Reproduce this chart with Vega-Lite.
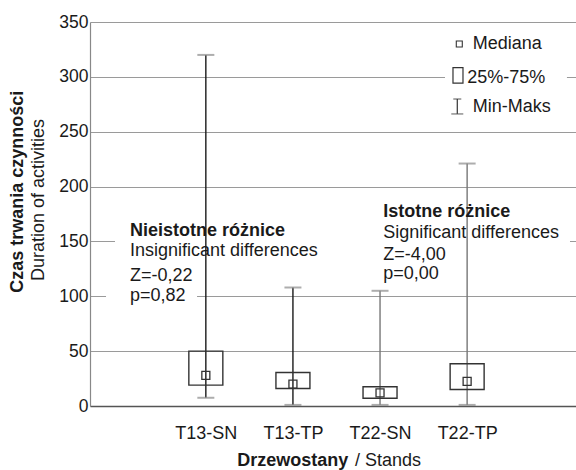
{
  "$schema": "https://vega.github.io/schema/vega-lite/v6.json",
  "width": 486,
  "height": 384,
  "autosize": {"type": "none"},
  "padding": {"left": 90, "top": 22, "right": 0, "bottom": 64},
  "background": "white",
  "config": {"view": {"stroke": null}, "font": "Liberation Sans"},
  "datasets": {
    "stands": [
      {"id": 1, "stand": "T13-SN", "grp": "T13", "min": 7.5, "q1": 19, "median": 28, "q3": 50, "max": 320},
      {"id": 2, "stand": "T13-TP", "grp": "T13", "min": 1, "q1": 16, "median": 20, "q3": 30.5, "max": 108},
      {"id": 3, "stand": "T22-SN", "grp": "T22", "min": 1, "q1": 7, "median": 12, "q3": 17.5, "max": 105},
      {"id": 4, "stand": "T22-TP", "grp": "T22", "min": 1, "q1": 15, "median": 22.5, "q3": 38.5, "max": 221}
    ],
    "masks": [
      {"x1": -0.043, "x2": 5.181, "y1": 140, "y2": 160},
      {"x1": -0.146, "x2": 0.899, "y1": 92, "y2": 108},
      {"x1": 3.746, "x2": 5.146, "y1": 260.7, "y2": 342.7}
    ],
    "boldText": [
      {"x": 0.129, "y": 155, "label": "Nieistotne różnice"},
      {"x": 3.037, "y": 172.5, "label": "Istotne różnice"}
    ],
    "plainText": [
      {"x": 0.129, "y": 136.7, "label": "Insignificant differences"},
      {"x": 0.129, "y": 113.9, "label": "Z=-0,22"},
      {"x": 0.129, "y": 95.7, "label": "p=0,82"},
      {"x": 3.037, "y": 152.9, "label": "Significant differences"},
      {"x": 3.037, "y": 133.1, "label": "Z=-4,00"},
      {"x": 3.037, "y": 115.5, "label": "p=0,00"},
      {"x": 4.064, "y": 325.1, "label": "Mediana"},
      {"x": 4.0, "y": 294.4, "label": "25%-75%"},
      {"x": 4.064, "y": 268.0, "label": "Min-Maks"},
      {"x": 2.713, "y": -55.1, "label": "/ Stands"}
    ]
  },
  "layer": [
    {
      "data": {"name": "masks"},
      "mark": {"type": "rect", "fill": "white", "strokeWidth": 0},
      "encoding": {
        "x": {"field": "x1", "type": "quantitative", "scale": {"domain": [-0.33, 5.25], "nice": false, "zero": false, "padding": 0},
          "axis": {"values": [1, 2, 3, 4], "title": null, "ticks": false, "grid": false,
            "labelExpr": "datum.value == 1 ? 'T13-SN' : datum.value == 2 ? 'T13-TP' : datum.value == 3 ? 'T22-SN' : 'T22-TP'",
            "labelFontSize": 18, "labelColor": "#1a1a1a", "labelPadding": 18, "labelFont": "Liberation Sans",
            "domainColor": "#555", "domainWidth": 1.6}},
        "x2": {"field": "x2"},
        "y": {"field": "y1", "type": "quantitative", "scale": {"domain": [0, 350], "nice": false, "zero": true, "padding": 0},
          "axis": {"values": [0, 50, 100, 150, 200, 250, 300, 350], "title": null, "ticks": false, "tickSize": 0,
            "grid": true, "gridColor": "#9a9a9a", "gridWidth": 1, "labelFontSize": 17.5, "labelColor": "#1a1a1a",
            "labelPadding": 2, "labelFont": "Liberation Sans", "domainColor": "#888", "domainWidth": 1.2}},
        "y2": {"field": "y2"}
      }
    },
    {
      "data": {"name": "stands"},
      "mark": {"type": "rule", "strokeWidth": 1.4},
      "encoding": {
        "x": {"field": "id", "type": "quantitative"},
        "y": {"field": "min", "type": "quantitative"},
        "y2": {"field": "max"},
        "color": {"field": "grp", "type": "nominal", "scale": {"domain": ["T13", "T22"], "range": ["#1a1a1a", "#777777"]}, "legend": null}
      }
    },
    {
      "data": {"name": "stands"},
      "mark": {"type": "tick", "orient": "horizontal", "size": 17, "thickness": 2, "color": "#8a8a8a"},
      "encoding": {
        "x": {"field": "id", "type": "quantitative"},
        "y": {"field": "max", "type": "quantitative"}
      }
    },
    {
      "data": {"name": "stands"},
      "mark": {"type": "tick", "orient": "horizontal", "size": 17, "thickness": 2, "color": "#8a8a8a"},
      "encoding": {
        "x": {"field": "id", "type": "quantitative"},
        "y": {"field": "min", "type": "quantitative"}
      }
    },
    {
      "data": {"name": "stands"},
      "mark": {"type": "bar", "width": 34, "fill": "white", "fillOpacity": 0, "stroke": "#333333", "strokeWidth": 1.4},
      "encoding": {
        "x": {"field": "id", "type": "quantitative"},
        "y": {"field": "q1", "type": "quantitative"},
        "y2": {"field": "q3"}
      }
    },
    {
      "data": {"name": "stands"},
      "mark": {"type": "point", "shape": "square", "size": 64, "filled": false, "stroke": "#333333", "strokeWidth": 1.3, "opacity": 1},
      "encoding": {
        "x": {"field": "id", "type": "quantitative"},
        "y": {"field": "median", "type": "quantitative"}
      }
    },
    {
      "data": {"values": [{"x": 3.91, "y": 330}]},
      "mark": {"type": "point", "shape": "square", "size": 36, "filled": false, "stroke": "#333333", "strokeWidth": 1.1, "opacity": 1},
      "encoding": {
        "x": {"field": "x", "type": "quantitative"},
        "y": {"field": "y", "type": "quantitative"}
      }
    },
    {
      "data": {"values": [{"x": 3.895, "lo": 294.2, "hi": 308.4}]},
      "mark": {"type": "bar", "width": 10, "fill": "white", "fillOpacity": 0, "stroke": "#333333", "strokeWidth": 1.2},
      "encoding": {
        "x": {"field": "x", "type": "quantitative"},
        "y": {"field": "lo", "type": "quantitative"},
        "y2": {"field": "hi"}
      }
    },
    {
      "data": {"values": [{"x": 3.887, "lo": 266.2, "hi": 279.8}]},
      "layer": [
        {"mark": {"type": "rule", "strokeWidth": 1.2, "color": "#333333"},
          "encoding": {"x": {"field": "x", "type": "quantitative"}, "y": {"field": "lo", "type": "quantitative"}, "y2": {"field": "hi"}}},
        {"mark": {"type": "tick", "orient": "horizontal", "size": 8, "thickness": 1.2, "color": "#333333"},
          "encoding": {"x": {"field": "x", "type": "quantitative"}, "y": {"field": "hi", "type": "quantitative"}}},
        {"mark": {"type": "tick", "orient": "horizontal", "size": 12, "thickness": 1.4, "color": "#555555"},
          "encoding": {"x": {"field": "x", "type": "quantitative"}, "y": {"field": "lo", "type": "quantitative"}}}
      ]
    },
    {
      "data": {"name": "boldText"},
      "mark": {"type": "text", "align": "left", "baseline": "alphabetic", "fontSize": 18, "fontWeight": "bold", "color": "#1a1a1a"},
      "encoding": {
        "x": {"field": "x", "type": "quantitative"},
        "y": {"field": "y", "type": "quantitative"},
        "text": {"field": "label"}
      }
    },
    {
      "data": {"name": "plainText"},
      "mark": {"type": "text", "align": "left", "baseline": "alphabetic", "fontSize": 18, "color": "#1a1a1a"},
      "encoding": {
        "x": {"field": "x", "type": "quantitative"},
        "y": {"field": "y", "type": "quantitative"},
        "text": {"field": "label"}
      }
    },
    {
      "data": {"values": [{"x": 2.636, "y": -55.1, "label": "Drzewostany"}]},
      "mark": {"type": "text", "align": "right", "baseline": "alphabetic", "fontSize": 18, "fontWeight": "bold", "color": "#1a1a1a"},
      "encoding": {
        "x": {"field": "x", "type": "quantitative"},
        "y": {"field": "y", "type": "quantitative"},
        "text": {"field": "label"}
      }
    },
    {
      "data": {"values": [{"x": -1.16, "y": 195.3, "label": "Czas trwania czynności"}]},
      "mark": {"type": "text", "align": "center", "baseline": "middle", "angle": 270, "fontSize": 18, "fontWeight": "bold", "color": "#1a1a1a"},
      "encoding": {
        "x": {"field": "x", "type": "quantitative"},
        "y": {"field": "y", "type": "quantitative"},
        "text": {"field": "label"}
      }
    },
    {
      "data": {"values": [{"x": -0.91, "y": 187.8, "label": "Duration of activities"}]},
      "mark": {"type": "text", "align": "center", "baseline": "middle", "angle": 270, "fontSize": 18, "color": "#1a1a1a"},
      "encoding": {
        "x": {"field": "x", "type": "quantitative"},
        "y": {"field": "y", "type": "quantitative"},
        "text": {"field": "label"}
      }
    }
  ]
}
